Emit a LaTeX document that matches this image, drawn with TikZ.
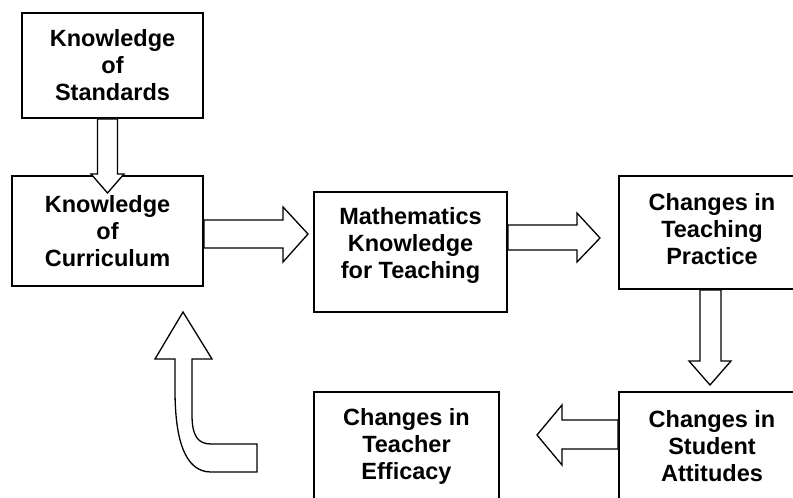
\documentclass[tikz,border=0pt]{standalone}
\usepackage{fontspec}
\setmainfont{Liberation Sans}
\usepackage{tikz}
\usetikzlibrary{calc}

\begin{document}
\begin{tikzpicture}[x=1bp,y=-1bp,
  box/.style = {draw, fill = white, line width = 2bp, inner sep = 0pt, align = center,
                font = \bfseries\fontsize{23.5bp}{27bp}\selectfont},
  blockarrow/.style = {draw, fill = white, line width = 1.3bp, line join = miter},]
\clip (0,0) rectangle (793,498);
\node (std) at (112.5,65.5)[box,minimum width=181bp,minimum height=105bp] {Knowledge\\of\\Standards};
\node (cur) at (107.5,231)[box,minimum width=191bp,minimum height=110bp] {Knowledge\\of\\Curriculum};
\node (mkt) at (410.5,252)[box,minimum width=193bp,minimum height=120bp,text depth=19bp] {Mathematics\\Knowledge\\for Teaching};
\node (prac) at (712,232.5)[box,minimum width=186bp,minimum height=113bp,text depth=7bp] {Changes in\\Teaching\\Practice};
\node (att) at (712,446)[box,minimum width=186bp,minimum height=108bp] {Changes in\\Student\\Attitudes};
\node (eff) at (406.5,446)[box,minimum width=185bp,minimum height=108bp] {Changes in\\Teacher\\Efficacy};
%Drawing the block arrows between the boxes
\draw[blockarrow] (cur.north |- std.south) ++(-10,0) -- ++(0,55) -- ++(-6.5,0) -- ++(16.5,19) -- ++(16.5,-19) -- ++(-6.5,0) -- ++(0,-55) -- cycle;
\draw[blockarrow] (cur.east) ++(0,-11) -- ++(79,0) -- ++(0,-13) -- ++(25,27) -- ++(-25,28) -- ++(0,-14) -- ++(-79,0) -- cycle;
\draw[blockarrow] (mkt.east) ++(0,-27) -- ++(69,0) -- ++(0,-12) -- ++(23,25) -- ++(-23,24) -- ++(0,-12) -- ++(-69,0) -- cycle;
\draw[blockarrow] (prac.south) ++(-12,0) -- ++(0,71) -- ++(-11,0) -- ++(21,24) -- ++(21,-24) -- ++(-10,0) -- ++(0,-71) -- cycle;
\draw[blockarrow] (att.west) ++(0,-26) -- ++(-56,0) -- ++(0,-15) -- ++(-25,30) -- ++(25,30) -- ++(0,-16) -- ++(56,0) -- cycle;
%Bent arrow going back up to the curriculum
\draw[blockarrow] (183,312) -- (212,359) -- (192,359) -- (192,415) .. controls (192,436) and (198,444) .. (211,444) -- (257,444) -- (257,472) -- (211,472) .. controls (185,472) and (175,440) .. (175,390) -- (175,359) -- (155,359) -- cycle;
\end{tikzpicture}
\end{document}
